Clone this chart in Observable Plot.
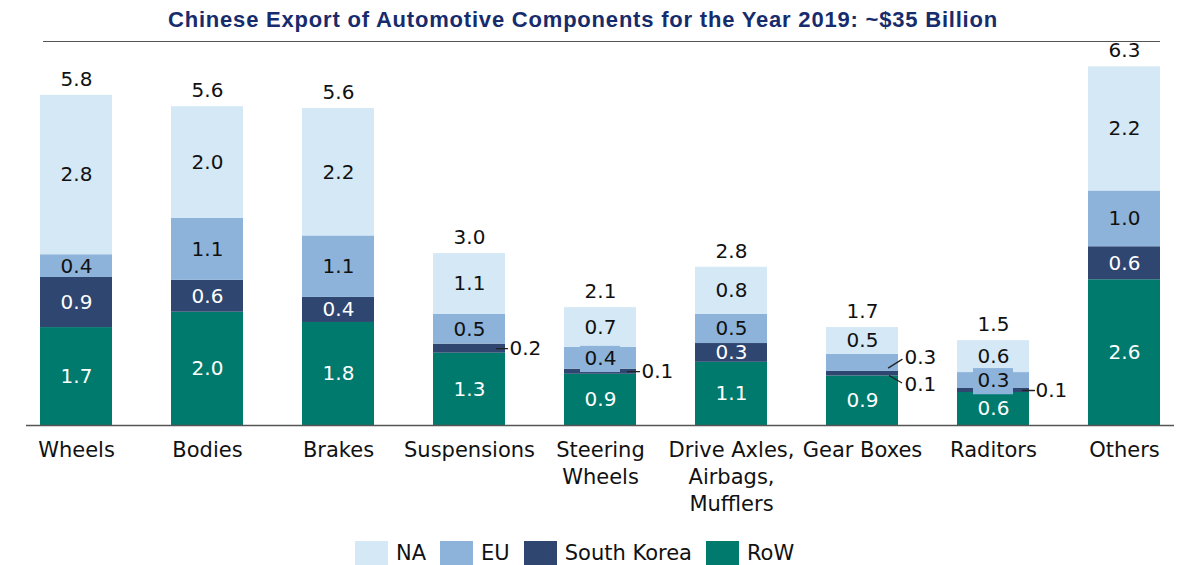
<!DOCTYPE html>
<html>
<head>
<meta charset="utf-8">
<script src="https://cdn.jsdelivr.net/npm/d3@7"></script>
<script src="https://cdn.jsdelivr.net/npm/@observablehq/plot@0.6"></script>
<style>
  body { margin: 0; background: #fff; width: 1186px; height: 565px; overflow: hidden; position: relative; }
  #title { position: absolute; left: 0; top: 7px; width: 1166px; text-align: center; z-index: 2;
    font: bold 22px "Liberation Sans", Arial, sans-serif; color: #172C6C; letter-spacing: 0.8px; }
  #rule { position: absolute; left: 43px; top: 41px; width: 1117px; border-top: 1.5px solid #555; z-index: 1; }
  #chart { position: absolute; left: 0; top: 30px; z-index: 2; }
  #legend { position: absolute; left: 355px; top: 541px; display: flex; align-items: center;
    font: 21px "DejaVu Sans", sans-serif; color: #111; }
  .item { display: flex; align-items: center; margin-right: 14px; }
  .sw { width: 33px; height: 24px; margin-right: 8px; }
</style>
</head>
<body>
<div id="title">Chinese Export of Automotive Components for the Year 2019: ~$35 Billion</div>
<div id="rule"></div>
<div id="chart"></div>
<div id="legend"></div>
<script>
const categories = ["Wheels", "Bodies", "Brakes", "Suspensions", "Steering\nWheels",
  "Drive Axles,\nAirbags,\nMufflers", "Gear Boxes", "Raditors", "Others"];
const seriesNames = ["RoW", "South Korea", "EU", "NA"];
const seriesColors = ["#007A6D", "#2E4670", "#8DB3DA", "#D4E8F6"];
const legendOrder = ["NA", "EU", "South Korea", "RoW"];
const rowVals = [1.72, 1.99, 1.81, 1.27, 0.90, 1.11, 0.87, 0.58, 2.56];
const skVals  = [0.88, 0.56, 0.44, 0.16, 0.09, 0.33, 0.08, 0.07, 0.58];
const euVals  = [0.40, 1.09, 1.08, 0.52, 0.38, 0.51, 0.30, 0.28, 0.98];
const naVals  = [2.80, 1.96, 2.24, 1.07, 0.70, 0.83, 0.47, 0.56, 2.18];
// segments labelled outside the bar, with a leader line
const outside = [
  {cat: "Suspensions", series: "South Korea", dx: 27, dy: 0, rot: 90, len: 11, tdx: 40, tdy: 0},
  {cat: "Steering\nWheels", series: "South Korea", dx: 27, dy: 0, rot: 90, len: 12, tdx: 41, tdy: 0},
  {cat: "Gear Boxes", series: "EU", dx: 26, dy: 5, rot: 58, len: 16, tdx: 42, tdy: -5},
  {cat: "Gear Boxes", series: "South Korea", dx: 27, dy: 2, rot: 120, len: 14, tdx: 42, tdy: 11},
  {cat: "Raditors", series: "South Korea", dx: 29, dy: 0, rot: 90, len: 12, tdx: 42, tdy: 0}
];
// label boxes that widen the EU band around its label
const boxed = [{cat: "Steering\nWheels", series: "EU"}, {cat: "Raditors", series: "EU"}];

const colorOf = Object.fromEntries(seriesNames.map((s, i) => [s, seriesColors[i]]));
const valsBySeries = {"RoW": rowVals, "South Korea": skVals, "EU": euVals, "NA": naVals};

const data = [];
categories.forEach((c, i) => {
  let base = 0;
  seriesNames.forEach(s => {
    const v = valsBySeries[s][i];
    data.push({cat: c, series: s, value: v, lo: base, hi: base + v, mid: base + v / 2});
    base += v;
  });
});
const totals = categories.map((c, i) => ({cat: c,
  total: rowVals[i] + skVals[i] + euVals[i] + naVals[i]}));
const isOut = d => outside.some(o => o.cat === d.cat && o.series === d.series);
const outData = outside.map(o => ({...o, ...data.find(d => d.cat === o.cat && d.series === o.series)}));
const boxData = boxed.map(b => data.find(d => d.cat === b.cat && d.series === b.series));

const leaderMarks = outData.flatMap(o => [
  Plot.vector([o], {x: "cat", y: "mid", dx: o.dx, dy: o.dy, anchor: "start", r: 0,
    length: o.len, rotate: o.rot, stroke: "#222", strokeWidth: 1.3}),
  Plot.text([o], {x: "cat", y: "mid", dx: o.tdx, dy: o.tdy, textAnchor: "start",
    text: d => d.value.toFixed(1), fontSize: 20, fill: "#111"})
]);

const chart = Plot.plot({
  width: 1186, height: 500,
  marginLeft: 26, marginRight: 12, marginTop: 25, marginBottom: 105,
  style: {fontFamily: "'DejaVu Sans', sans-serif", fontSize: "20px", color: "#111", background: "transparent"},
  x: {domain: categories, type: "band", paddingInner: 0.45, paddingOuter: 0.1, label: null},
  y: {domain: [0, 6.5], axis: null},
  color: {type: "identity"},
  marks: [
    Plot.barY(data, Plot.stackY({x: "cat", y: "value", order: seriesNames,
      z: "series", fill: d => colorOf[d.series]})),
    Plot.barY(boxData, {x: "cat", y1: d => d.mid - 0.25, y2: d => d.mid + 0.21,
      fill: colorOf["EU"], insetLeft: 16, insetRight: 16}),
    Plot.ruleY([0], {stroke: "#555", strokeWidth: 1.5}),
    Plot.text(data, {x: "cat", y: "mid", text: d => isOut(d) ? "" : d.value.toFixed(1),
      fill: d => (d.series === "RoW" || d.series === "South Korea") ? "#fff" : "#111",
      fontSize: 20}),
    ...leaderMarks,
    Plot.text(totals, {x: "cat", y: "total", text: d => d.total.toFixed(1), dy: -16, fontSize: 20, fill: "#111"}),
    Plot.axisX({tickSize: 0, tickPadding: 12, fontSize: 21, lineHeight: 1.3, label: null, fill: "#111"})
  ]
});
document.getElementById("chart").appendChild(chart);

const legend = document.getElementById("legend");
legendOrder.forEach(s => {
  const item = document.createElement("div");
  item.className = "item";
  const sw = document.createElement("div");
  sw.className = "sw";
  sw.style.background = colorOf[s];
  const lab = document.createElement("span");
  lab.textContent = s;
  item.appendChild(sw);
  item.appendChild(lab);
  legend.appendChild(item);
});
</script>
</body>
</html>
